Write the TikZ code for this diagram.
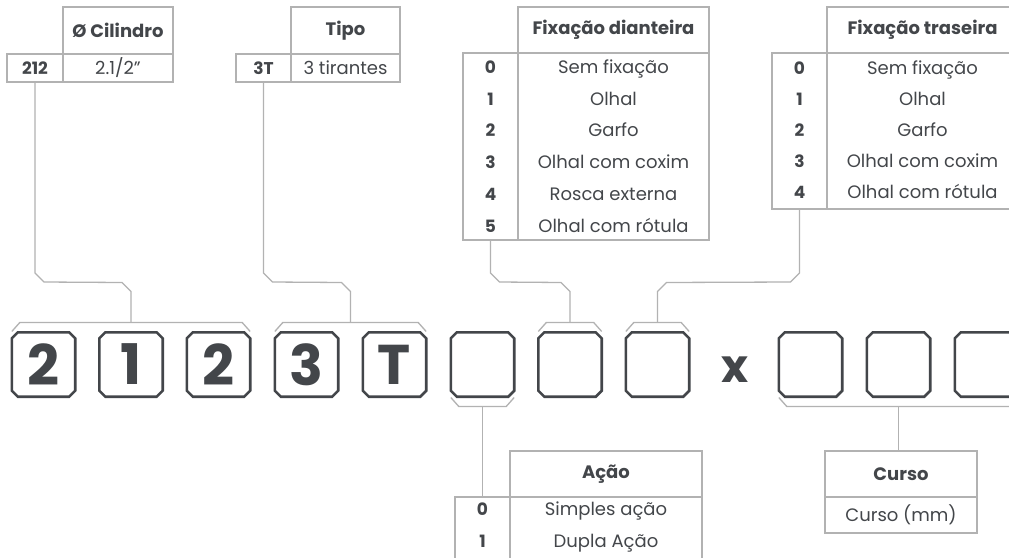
\documentclass[tikz,border=0pt]{standalone}
\usepackage{fontspec}
\IfFontExistsTF{Poppins Bold}{%
  \IfFontExistsTF{Poppins Regular}{%
    \setmainfont{Poppins}[UprightFont={Poppins Regular},BoldFont={Poppins Bold}]}{\setmainfont{Poppins}}}{\setmainfont{Poppins}}
\usetikzlibrary{calc}
\definecolor{ink}{HTML}{43464A}
\definecolor{rulec}{HTML}{B2B2B2}
\newcommand\chamf[1]{\draw[boxln] ($(#1.north west)+(6,0)$) -- ($(#1.north east)+(-6,0)$) -- ($(#1.north east)+(0,6)$) -- ($(#1.south east)+(0,-6)$) -- ($(#1.south east)+(-6,0)$) -- ($(#1.south west)+(6,0)$) -- ($(#1.south west)+(0,-6)$) -- ($(#1.north west)+(0,6)$) -- cycle;}
\newcommand\topbr[3]{%
  \path ($(#1.west)+(0,-33)$) coordinate (#3l) ($(#2.east)+(0,-33)$) coordinate (#3r);
  \draw[lin] (#3l) -- ++(8,-9) -- ($(#3r)+(-8,-9)$) -- (#3r);
  \coordinate (#3m) at ($(#3l)!0.5!(#3r)+(0,-9)$);}
\newcommand\botbr[3]{%
  \path ($(#1.west)+(0,33)$) coordinate (#3l) ($(#2.east)+(0,33)$) coordinate (#3r);
  \draw[lin] (#3l) -- ++(8,9) -- ($(#3r)+(-8,9)$) -- (#3r);
  \coordinate (#3m) at ($(#3l)!0.5!(#3r)+(0,9)$);}
\begin{document}
\begin{tikzpicture}[x=1pt,y=-1pt,
  lin/.style={draw=rulec,line width=1.3pt},
  boxln/.style={draw=ink,line width=2.6pt,line join=miter},
  cell/.style={draw=rulec,line width=1.3pt,inner sep=0pt,outer sep=0pt,text=ink,font=\fontsize{18}{20}\selectfont},
  hcell/.style={cell,font=\bfseries\fontsize{18}{20}\selectfont},
  kcell/.style={cell,font=\bfseries\fontsize{17}{19}\selectfont},
  ent/.style={text=ink,inner sep=0pt,text height=12.5pt,text depth=4pt,font=\fontsize{18}{20}\selectfont},
  kent/.style={ent,font=\bfseries\fontsize{17}{19}\selectfont},
  cbox/.style={inner sep=0pt,minimum width=63pt,minimum height=64pt,text=ink,font=\bfseries\fontsize{56}{60}\selectfont},
]
\useasboundingbox (0,0) rectangle (1009,557);
\clip (0,0) rectangle (1009,557);
\fill[white] (0,0) rectangle (1009,557);

% code boxes
\foreach \n/\cx/\t in {b1/43.5/2,b2/131/1,b3/218.5/2,b4/306.5/3,b5/394.5/T,b6/482.5/{},b7/570/{},b8/657.5/{},b9/810.5/{},b10/898.5/{},b11/986.5/{}}{
  \node[cbox] (\n) at (\cx,364.5) {\t};
  \chamf{\n}
}
\node[text=ink,inner sep=0pt,font=\bfseries\fontsize{46}{50}\selectfont] (xx) at (735.5,369.5) {x};

% tables
% Cilindro
\node[hcell,minimum width=110pt,minimum height=47pt] (h1) at (118,30.5) {Ø Cilindro};
\node[kcell,minimum width=56pt,minimum height=28pt] (k1) at (35,68) {212};
\node[cell,minimum width=110pt,minimum height=28pt] (v1) at (118,68) {2.1/2"};
% Tipo
\node[hcell,minimum width=109pt,minimum height=47pt] (h2) at (345.5,30.5) {Tipo};
\node[kcell,minimum width=55pt,minimum height=28pt] (k2) at (263.5,68) {3T};
\node[cell,minimum width=109pt,minimum height=28pt] (v2) at (345.5,68) {3 tirantes};
% Fixacao dianteira
\node[hcell,minimum width=191pt,minimum height=46pt] (h3) at (613.5,30) {Fixação dianteira};
\node[cell,minimum width=55pt,minimum height=187pt] (k3) at (490.5,146.5) {};
\node[cell,minimum width=191pt,minimum height=187pt] (v3) at (613.5,146.5) {};
\foreach \k/\v [count=\i from 0] in {0/Sem fixação,1/Olhal,2/Garfo,3/Olhal com coxim,4/Rosca externa,5/Olhal com rótula}{
  \node[kent] (d\i k) at (490.5,{69+31.8*\i}) {\k};
  \node[ent] (d\i v) at (613.5,{69+31.8*\i}) {\v};
}
% Fixacao traseira
\node[hcell,minimum width=191pt,minimum height=46pt] (h4) at (922.5,30) {Fixação traseira};
\node[cell,minimum width=55pt,minimum height=156pt] (k4) at (799.5,131) {};
\node[cell,minimum width=191pt,minimum height=156pt] (v4) at (922.5,131) {};
\foreach \k/\v [count=\i from 0] in {0/Sem fixação,1/Olhal,2/Garfo,3/Olhal com coxim,4/Olhal com rótula}{
  \node[kent] (t\i k) at (799.5,{70+31*\i}) {\k};
  \node[ent] (t\i v) at (922.5,{70+31*\i}) {\v};
}
% Acao
\node[hcell,minimum width=192pt,minimum height=46pt] (h5) at (606,474) {Ação};
\node[cell,minimum width=55pt,minimum height=66pt] (k5) at (482.5,530) {};
\node[cell,minimum width=192pt,minimum height=66pt] (v5) at (606,530) {};
\foreach \k/\v [count=\i from 0] in {0/Simples ação,1/Dupla Ação}{
  \node[kent] (a\i k) at (482.5,{511+32*\i}) {\k};
  \node[ent] (a\i v) at (606,{511+32*\i}) {\v};
}
% Curso
\node[hcell,minimum width=152pt,minimum height=46pt] (h6) at (901,474) {Curso};
\node[cell,minimum width=152pt,minimum height=36pt] (v6) at (901,515) {Curso (mm)};

% brackets
\topbr{b1}{b3}{g1}
\topbr{b4}{b5}{g2}
\topbr{b7}{b7}{g3}
\topbr{b8}{b8}{g4}
\botbr{b6}{b6}{g5}
\botbr{b9}{b11}{g6}

% connectors
\coordinate (yA) at (0,273);
\draw[lin] (k1.south) -- (k1.south |- yA) -- ++(9,9) -- ($(g1m)+(-9,-40)$) -- ($(g1m)+(0,-31)$) -- (g1m);
\draw[lin] (k2.south) -- (k2.south |- yA) -- ++(9,9) -- ($(g2m)+(-9,-40)$) -- ($(g2m)+(0,-31)$) -- (g2m);
\draw[lin] (k3.south) -- (k3.south |- yA) -- ++(9,9) -- ($(g3m)+(-9,-40)$) -- ($(g3m)+(0,-31)$) -- (g3m);
\draw[lin] (k4.south) -- (k4.south |- yA) -- ++(-9,9) -- ($(g4m)+(9,-40)$) -- ($(g4m)+(0,-31)$) -- (g4m);
\draw[lin] (g5m) -- (g5m |- k5.north);
\draw[lin] (g6m) -- (g6m |- h6.north);
\end{tikzpicture}
\end{document}
